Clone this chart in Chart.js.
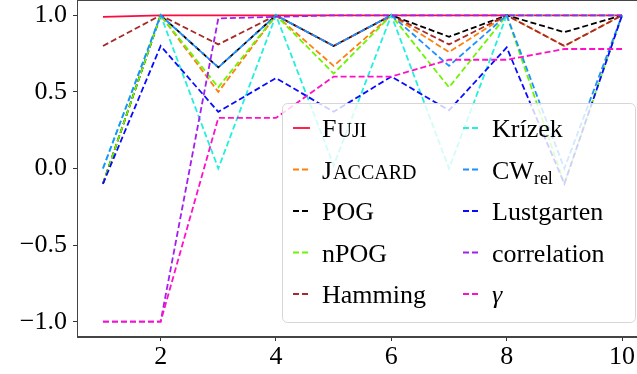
<!DOCTYPE html>
<html>
<head>
<meta charset="utf-8">
<script src="https://cdn.jsdelivr.net/npm/chart.js@4"></script>
<style>
    html, body { margin: 0; padding: 0; background: #fff; overflow: hidden; }
    #wrap { width: 637px; height: 374px; overflow: hidden; position: relative; }
    #box { width: 660px; height: 374px; }
</style>
</head>
<body>
<div id="wrap"><div id="box"><canvas id="chart"></canvas></div></div>
<script>
// ==========================================
// Similarity measures vs. step (x = 1..10)
// ==========================================

const X_VALUES = [1, 2, 3, 4, 5, 6, 7, 8, 9, 10];
const X_TICKS = [2, 4, 6, 8, 10];
const Y_TICKS = [-1.0, -0.5, 0.0, 0.5, 1.0];

const FUJI        = [0.99, 1.0, 1.0, 1.0, 1.0, 1.0, 1.0, 1.0, 1.0, 1.0];
const JACCARD     = [-0.1, 1.0, 0.50, 1.0, 0.67, 1.0, 0.76, 1.0, 0.80, 1.0];
const POG         = [-0.1, 1.0, 0.66, 1.0, 0.80, 1.0, 0.86, 1.0, 0.89, 1.0];
const NPOG        = [-0.1, 1.0, 0.53, 1.0, 0.62, 1.0, 0.53, 1.0, -0.1, 1.0];
const HAMMING     = [0.80, 1.0, 0.81, 1.0, 0.80, 1.0, 0.81, 1.0, 0.80, 1.0];
const KRIZEK      = [0.0, 1.0, 0.0, 1.0, 0.02, 1.0, 0.0, 1.0, 1.0, 1.0];
const CW_REL      = [0.0, 1.0, 0.66, 1.0, 0.80, 1.0, 0.67, 1.0, 0.0, 1.0];
const LUSTGARTEN  = [-0.1, 0.80, 0.37, 0.59, 0.37, 0.60, 0.38, 0.79, -0.1, 1.0];
const CORRELATION = [-1.0, -1.0, 0.98, 0.99, 1.0, 1.0, 1.0, 1.0, 1.0, 1.0];
const GAMMA       = [-1.0, -1.0, 0.33, 0.33, 0.60, 0.60, 0.71, 0.71, 0.78, 0.78];

const SERIES_NAMES = ['Fuji', 'Jaccard', 'POG', 'nPOG', 'Hamming', 'Krízek', 'CWrel', 'Lustgarten', 'correlation', 'γ'];
const SERIES_VALUES = [FUJI, JACCARD, POG, NPOG, HAMMING, KRIZEK, CW_REL, LUSTGARTEN, CORRELATION, GAMMA];
const SERIES_COLORS = ['#ff0a3c', '#ff7f0e', '#000000', '#6cf500', '#a52a2a', '#22f0dc', '#1e90ff', '#0a0aff', '#a31ff0', '#ff10c8'];

const FONT = "'Liberation Serif', 'DejaVu Serif', serif";
const DASH = [6, 3];
const LINE_W = 1.8;

const datasets = SERIES_NAMES.map((name, i) => ({
    label: name,
    data: X_VALUES.map((x, j) => ({ x, y: SERIES_VALUES[i][j] })),
    borderColor: SERIES_COLORS[i],
    borderWidth: LINE_W,
    borderDash: i === 0 ? [] : DASH,
    pointRadius: 0,
    tension: 0,
    fill: false,
    order: SERIES_NAMES.length - i   // first series at the bottom, like matplotlib
}));

// draws one legend label, with small caps / subscript / italic where needed
function drawLabel(ctx, name, x, y, size) {
    ctx.textBaseline = 'alphabetic';
    ctx.textAlign = 'left';
    ctx.fillStyle = '#000';
    if (name === 'Fuji' || name === 'Jaccard') {
        ctx.font = `${size}px ${FONT}`;
        ctx.fillText(name[0], x, y);
        const w = ctx.measureText(name[0]).width;
        ctx.font = `${Math.round(size * 0.76)}px ${FONT}`;
        ctx.fillText(name.slice(1).toUpperCase(), x + w + 1, y);
    } else if (name === 'CWrel') {
        ctx.font = `${size}px ${FONT}`;
        ctx.fillText('CW', x, y);
        const w = ctx.measureText('CW').width;
        ctx.font = `${Math.round(size * 0.7)}px ${FONT}`;
        ctx.fillText('rel', x + w, y + 5);
    } else if (name === 'γ') {
        ctx.font = `italic ${size}px ${FONT}`;
        ctx.fillText(name, x, y);
    } else {
        ctx.font = `${size}px ${FONT}`;
        ctx.fillText(name, x, y);
    }
}

const framePlugin = {
    id: 'frame',
    beforeDatasetsDraw(chart) {
        const { ctx, chartArea: a } = chart;
        ctx.save();
        ctx.strokeStyle = '#444';
        ctx.lineWidth = 1;
        ctx.strokeRect(a.left + 0.5, a.top + 0.5, a.right - a.left, a.bottom - a.top - 1);
        ctx.restore();
    }
};

const legendPlugin = {
    id: 'boxLegend',
    afterDatasetsDraw(chart, args, opts) {
        const { ctx } = chart;
        const { left, top, right, bottom, rows, rowGap, firstRow, cols, handle, size } = opts;
        ctx.save();
        ctx.beginPath();
        ctx.roundRect(left + 0.5, top + 0.5, right - left, bottom - top, 5);
        ctx.fillStyle = 'rgba(255,255,255,0.8)';
        ctx.fill();
        ctx.strokeStyle = '#d6d6d6';
        ctx.lineWidth = 1;
        ctx.stroke();

        chart.data.datasets.forEach((ds, i) => {
            const col = Math.floor(i / rows);
            const row = i % rows;
            const cy = firstRow + row * rowGap;
            const hx = cols[col];
            ctx.beginPath();
            ctx.setLineDash(ds.borderDash);
            ctx.strokeStyle = ds.borderColor;
            ctx.lineWidth = LINE_W;
            ctx.moveTo(hx, cy);
            ctx.lineTo(hx + handle, cy);
            ctx.stroke();
            ctx.setLineDash([]);
            drawLabel(ctx, ds.label, hx + handle + 12, cy + 9, size);
        });
        ctx.restore();
    }
};

const tickFont = { family: FONT, size: 26 };

new Chart(document.getElementById('chart'), {
    type: 'line',
    data: { datasets },
    plugins: [framePlugin, legendPlugin],
    options: {
        responsive: true,
        maintainAspectRatio: false,
        animation: false,
        layout: { padding: { top: 0, right: 12, left: 0, bottom: 0 } },
        plugins: {
            legend: { display: false },
            tooltip: { enabled: false },
            boxLegend: {
                left: 282, top: 103, right: 635, bottom: 322,
                rows: 5, rowGap: 41.5, firstRow: 128,
                cols: [293, 463], handle: 17, size: 26
            }
        },
        scales: {
            x: {
                type: 'linear',
                min: 0.55,
                max: 10.45,
                afterBuildTicks: (s) => { s.ticks = X_TICKS.map(v => ({ value: v })); },
                afterFit: (s) => { s.height = 37; s.paddingLeft = 0; s.paddingRight = 0; },
                grid: { drawOnChartArea: false, drawTicks: true, tickLength: 4, color: '#333' },
                border: { display: true, color: '#444' },
                ticks: { color: '#000', font: tickFont, padding: 1, maxRotation: 0 }
            },
            y: {
                type: 'linear',
                min: -1.1,
                max: 1.1,
                afterBuildTicks: (s) => { s.ticks = Y_TICKS.map(v => ({ value: v })); },
                afterFit: (s) => { s.width = 77; s.paddingTop = 0; s.paddingBottom = 0; },
                grid: { drawOnChartArea: false, drawTicks: true, tickLength: 4, color: '#333' },
                border: { display: true, color: '#444' },
                ticks: {
                    color: '#000',
                    font: tickFont,
                    padding: 6,
                    callback: (v) => (v < 0 ? '\u2212' : '') + Math.abs(v).toFixed(1)
                }
            }
        }
    }
});
</script>
</body>
</html>
